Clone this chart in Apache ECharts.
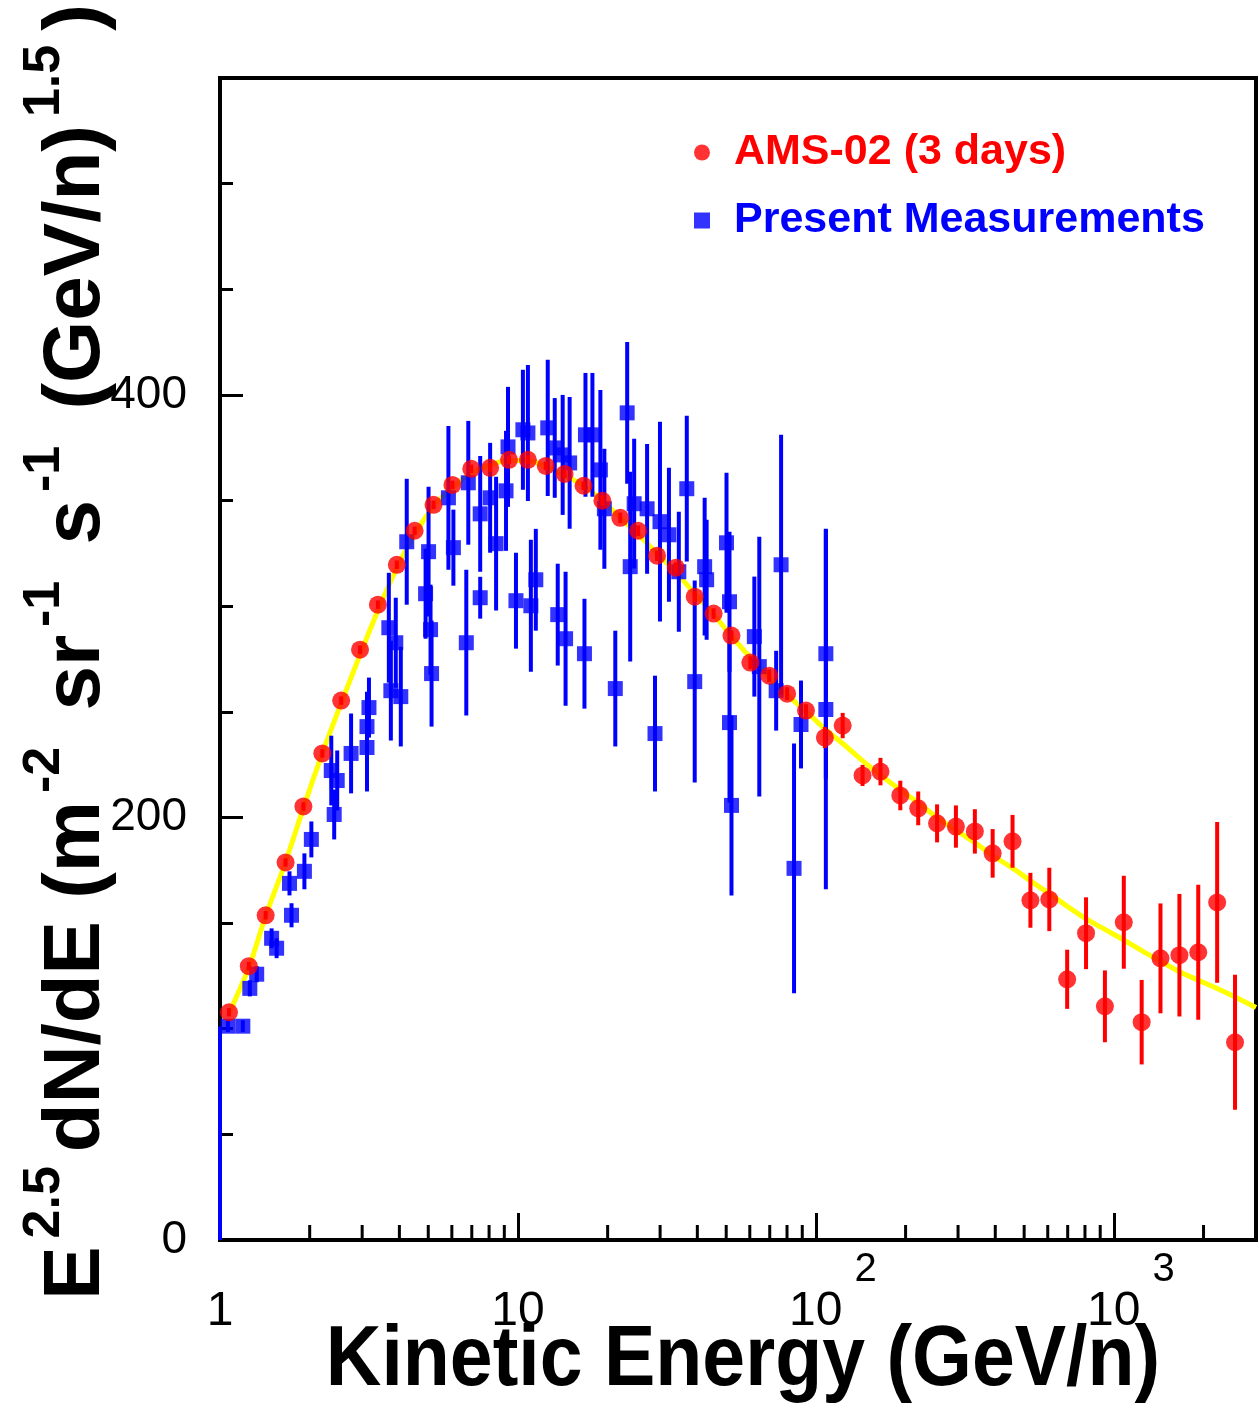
<!DOCTYPE html>
<html>
<head>
<meta charset="utf-8">
<script src="https://cdn.jsdelivr.net/npm/echarts@6/dist/echarts.min.js"></script>
<style>
html,body{margin:0;padding:0;background:#fff;}
#c{width:1259px;height:1410px;}
</style>
</head>
<body>
<div id="c"></div>
<script>
// ---------- data ----------
// AMS-02 (3 days): kinetic energy (GeV/n), E^2.5 dN/dE, error
const amsE = [1.072,1.249,1.423,1.660,1.905,2.205,2.551,2.951,3.388,3.921,
              4.501,5.208,6.026,6.972,8.066,9.333,10.80,12.40,14.34,16.60,
              19.20,22.05,25.32,29.29,33.88,39.20,45.36,52.08,60.26,69.72,
              80.05,92.62,107.2,123.0,143.4,164.7,192.0,220.5,255.1,295.1,
              341.6,392.0,457.1,524.8,607.3,697.2,806.6,933.3,1080,1240,
              1434,1660,1920,2222,2551];
const amsV = [107.8,129.6,153.7,178.7,205.2,230.3,255.3,279.4,300.7,319.6,
              335.7,348.0,357.4,365.0,365.5,369.3,369.3,366.4,362.6,357.0,
              349.9,341.8,335.7,323.9,318.2,304.5,296.5,286.1,273.3,267.1,
              258.6,250.6,237.8,243.5,219.9,221.7,210.4,204.3,197.2,195.7,
              193.4,183.0,188.7,160.8,161.2,123.4,145.2,110.6,150.4,103.1,
              133.3,134.8,136.2,159.8,93.6];
const amsErr = [2,2,2,2,2,2,2,2,2,2,
                2,2,2,2,2,2,2,2,2,2,
                2.5,2.5,2.5,2.5,2.5,2.5,2.5,2.5,3,3,
                3,3,5,6,5,6.5,7,8,9,10,
                10.5,11.5,12.5,13,15,14,17,17,22,20,
                26,29,32,38,32];

// Present Measurements
const presE = [1.063,1.193,1.259,1.328,1.490,1.549,1.711,1.738,1.920,2.026,
               2.363,2.417,2.474,2.754,3.114,3.114,3.162,3.687,3.890,3.745,
               4.044,4.234,5.012,4.898,5.089,5.129,5.843,6.072,6.709,6.813,
               7.470,7.470,8.066,8.446,9.120,9.261,9.848,10.39,10.80,11.05,
               11.48,12.59,13.29,13.60,14.13,14.45,14.91,16.72,16.85,17.78,
               18.91,19.50,21.22,23.26,23.81,24.55,27.13,28.84,29.97,32.12,
               34.67,36.87,39.20,42.33,42.98,50.12,51.29,51.29,52.08,62.15,
               64.57,76.42,73.56,84.46,89.13,108.0,108.0];
const presV = [101.2,101.2,119.1,125.8,142.8,138.1,168.8,153.7,174.5,189.6,
               222.2,201.4,217.5,230.3,233.1,243.0,252.0,289.8,282.7,260.0,
               257.2,330.5,325.8,305.9,288.9,268.1,351.3,327.7,282.7,358.4,
               304.0,343.7,351.3,329.6,354.6,375.4,302.6,383.5,382.0,300.2,
               312.5,384.4,374.9,296.0,371.6,284.6,367.8,277.5,381.1,381.1,
               364.5,346.1,261.0,391.5,318.7,348.5,346.1,239.7,340.0,333.8,
               316.3,355.6,264.3,318.7,312.5,330.0,302.1,244.9,205.7,285.6,
               271.4,319.6,260.0,175.9,244.0,277.5,251.1];
const presErr = [2.8,2.8,3.8,3.8,4.7,4.7,5.7,5.7,8.5,8.5,
                 16.5,11.8,14.2,18.9,20.8,16.5,14.2,26.0,21.3,23.6,
                 23.6,29.8,30.7,21.3,21.3,25.1,34.0,18.0,34.5,29.3,
                 9.9,27.4,26.0,31.7,28.4,28.4,22.7,28.4,32.2,31.2,
                 24.1,32.2,23.6,24.1,28.4,31.7,31.2,26.0,29.3,29.3,
                 37.8,28.4,27.4,33.6,44.9,30.7,30.7,27.4,47.3,31.7,
                 28.4,34.5,47.8,32.6,28.4,33.1,33.1,37.8,42.6,28.4,
                 61.5,61.5,18.9,59.1,20.8,59.1,85.1];
// blue graph edge segment drawn along the left axis at E = 1
const presEdgeE = [1, 1];
const presEdgeV = [0, 101];

// yellow model curve
const fitE = [1.07,1.25,1.42,1.66,1.91,2.2,2.55,2.95,3.39,3.92,
              4.5,5.2,6.0,7.0,8.1,9.3,10.8,12.4,14.3,16.6,
              19.2,22,25.3,29.3,33.9,39.2,45.4,52,60,70,
              80,93,107,123,143,165,192,220,255,295,
              342,392,457,525,607,697,807,933,1080,1240,
              1434,1660,1920,2222,2551,3000];
const fitV = [107,129,153,179,205,230,254,277,298,318,
              334,347,356,363,367,369,369,366,362,357,
              350,342,334,325,316,306,296,286,276,266,
              258,250,242,235,227,220,213,207,200,194,
              188,182,176,170,164,158,152,147,142,137,
              132,127,123,119,115,110];

// axis ticks / labels
const xMinorTicks = [2,3,4,5,6,7,8,9,20,30,40,50,60,70,80,90,
                     200,300,400,500,600,700,800,900,2000];
const yLabelValues = [0,200,400];
const legendNames = ['AMS-02 (3 days)','Present Measurements'];
const xTitle = 'Kinetic Energy (GeV/n)';

// ---------- chart ----------
const LFONT = "'Liberation Sans',Arial,sans-serif";
const TFONT = "'Liberation Sans',Arial,sans-serif";
const RED = '#ff0000', BLUE = '#0000ff', YEL = '#ffff00';

const chart = echarts.init(document.getElementById('c'), null, {renderer:'canvas'});

function errBar(color, w) {
  return function (params, api) {
    const x = api.value(0), y = api.value(1), e = api.value(2);
    const p1 = api.coord([x, y + e]);
    const p2 = api.coord([x, y - e]);
    return {type:'line', shape:{x1:p1[0], y1:p1[1], x2:p2[0], y2:p2[1]},
            style:{stroke:color, lineWidth:w}};
  };
}

const amsPts = amsE.map((e,i)=>[e, amsV[i]]);
const amsErrData = amsE.map((e,i)=>[e, amsV[i], amsErr[i]]);
const presPts = presE.map((e,i)=>[e, presV[i]]);
const presErrData = presE.map((e,i)=>[e, presV[i], presErr[i]]);
const presEdge = presEdgeE.map((e,i)=>[e, presEdgeV[i]]);
const fitPts = fitE.map((e,i)=>[e, fitV[i]]);

const option = {
  animation:false,
  backgroundColor:'#fff',
  grid:{left:220, top:78, right:-4.1, bottom:170, show:true,
        borderColor:'#000', borderWidth:4, backgroundColor:'transparent'},
  xAxis:{
    type:'log', logBase:10, min:1, max:3000,
    axisLine:{show:true, onZero:false, lineStyle:{color:'#000', width:4}},
    axisTick:{show:true, inside:true, length:27, lineStyle:{color:'#000', width:3}},
    splitLine:{show:false},
    axisLabel:{
      margin:29, color:'#000',
      formatter:function(v){
        const e = Math.round(Math.log10(v));
        if (Math.abs(v - Math.pow(10,e)) > 1e-6*v) return '';
        if (e === 0) return '{m|1}';
        if (e === 1) return '{m|10}';
        return '{mp|10}{s|' + e + '}';
      },
      rich:{
        m:{fontFamily:LFONT, fontSize:48, lineHeight:48, padding:[38,0,0,0], color:'#000'},
        mp:{fontFamily:LFONT, fontSize:48, lineHeight:48, padding:[38,0,0,34], color:'#000'},
        s:{fontFamily:LFONT, fontSize:40, lineHeight:40, padding:[0,0,46,12], color:'#000'}
      }
    }
  },
  yAxis:[{
    type:'value', min:0, max:550, interval:50,
    axisLine:{show:true, lineStyle:{color:'#000', width:4}},
    axisTick:{show:true, inside:true, length:13, lineStyle:{color:'#000', width:3}},
    splitLine:{show:false},
    axisLabel:{
      margin:33, color:'#000', fontFamily:LFONT, fontSize:46,
      formatter:function(v){ return yLabelValues.indexOf(v) >= 0 ? String(v) : ''; }
    }
  },{
    type:'value', min:0, max:550, interval:200, position:'left', offset:0,
    axisLine:{show:false},
    axisTick:{show:true, inside:true, length:23, lineStyle:{color:'#000', width:3}},
    splitLine:{show:false},
    axisLabel:{show:false}
  }],
  legend:{
    orient:'vertical', left:689, top:126, itemWidth:16, itemHeight:16, itemGap:25,
    selectedMode:false,
    textStyle:{fontFamily:TFONT, fontSize:43, fontWeight:'bold', padding:[0,0,0,19]},
    data:[
      {name:legendNames[0], icon:'circle', itemStyle:{color:RED}, textStyle:{color:RED}},
      {name:legendNames[1], icon:'rect', itemStyle:{color:BLUE}, textStyle:{color:BLUE}}
    ]
  },
  series:[
    {type:'custom', name:'xminor', data:xMinorTicks.map(v=>[v,0]), z:5, silent:true,
     encode:{x:0, y:1},
     renderItem:function(params, api){
       const p = api.coord([api.value(0), 0]);
       return {type:'line', shape:{x1:p[0], y1:p[1], x2:p[0], y2:p[1]-15},
               style:{stroke:'#000', lineWidth:3}};
     }},
    {type:'line', name:'fit', data:fitPts, smooth:0.3, showSymbol:false, symbol:'none',
     lineStyle:{color:YEL, width:5}, z:2, silent:true},
    {type:'line', name:'presEdge', data:presEdge, showSymbol:false, symbol:'none',
     lineStyle:{color:BLUE, width:4}, z:3, silent:true},
    {type:'custom', name:'presErr', data:presErrData, encode:{x:0, y:1}, z:3,
     renderItem:errBar(BLUE, 4), silent:true},
    {type:'scatter', name:legendNames[1], data:presPts, symbol:'rect', symbolSize:15,
     itemStyle:{color:BLUE}, z:4},
    {type:'custom', name:'amsErr', data:amsErrData, encode:{x:0, y:1}, z:5,
     renderItem:errBar(RED, 4), silent:true},
    {type:'scatter', name:legendNames[0], data:amsPts, symbol:'circle', symbolSize:18,
     itemStyle:{color:RED}, z:6}
  ],
  graphic:[
    {type:'text', x:743, y:1362, scaleY:1.1, silent:true,
     style:{text:xTitle, font:'bold 77px ' + TFONT, fill:'#000',
            align:'center', verticalAlign:'middle', textAlign:'center', textVerticalAlign:'middle'}},
    {type:'text', x:77, y:652, rotation:Math.PI/2, silent:true,
     style:{
       text:'{m|E}{s|2.5}{m|dN/dE (m}{s|-2}{m| sr}{s|-1}{m| s}{s|-1}{m| (GeV/n)}{s|1.5}{m|)}',
       fill:'#000',
       align:'center', verticalAlign:'middle', textAlign:'center', textVerticalAlign:'middle',
       rich:{
         m:{fontFamily:TFONT, fontWeight:'bold', fontSize:80, lineHeight:80, verticalAlign:'bottom', fill:'#000'},
         s:{fontFamily:TFONT, fontWeight:'bold', fontSize:52, lineHeight:52, padding:[0,14,46,8], verticalAlign:'bottom', fill:'#000'}
       }
     }}
  ]
};
chart.setOption(option);
</script>
</body>
</html>
